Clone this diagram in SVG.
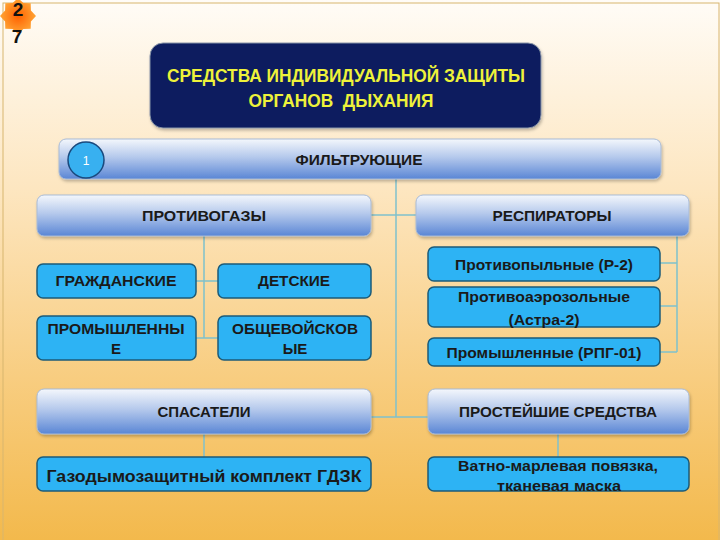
<svg xmlns="http://www.w3.org/2000/svg" width="720" height="540" viewBox="0 0 720 540">
<defs>
<linearGradient id="bg" x1="0" y1="0" x2="0" y2="1">
<stop offset="0" stop-color="#fffcf7"/>
<stop offset="0.35" stop-color="#fde6c0"/>
<stop offset="0.7" stop-color="#f8cd80"/>
<stop offset="1" stop-color="#f3b94c"/>
</linearGradient>
<linearGradient id="hdr" x1="0" y1="0" x2="0" y2="1">
<stop offset="0" stop-color="#f4f7fc"/>
<stop offset="0.45" stop-color="#b5c9ec"/>
<stop offset="1" stop-color="#5a86d5"/>
</linearGradient>
<radialGradient id="star" cx="0.5" cy="0.5" r="0.5">
<stop offset="0" stop-color="#ff6000"/>
<stop offset="1" stop-color="#ffa535"/>
</radialGradient>
<filter id="sh" x="-10%" y="-20%" width="120%" height="150%">
<feDropShadow dx="1" dy="2" stdDeviation="1.5" flood-color="#000" flood-opacity="0.25"/>
</filter>
</defs>
<style>
.hb{fill:url(#hdr);stroke:#a9bbd6;stroke-width:1;filter:url(#sh)}
.lb{fill:#2db3f4;stroke:#1c5b78;stroke-width:1.5}
.t{font-family:"Liberation Sans",Arial,sans-serif;font-weight:bold;fill:#1a1a1a;text-anchor:middle}
.c{font-size:15px}
.l{font-size:15px}
.cn{stroke:#7fc1cc;stroke-width:1.5;fill:none}
</style>
<rect x="0" y="0" width="720" height="540" fill="url(#bg)"/>
<rect x="3" y="3" width="716" height="540" fill="none" stroke="#d8b56e" stroke-width="1"/>

<g id="badge">
<polygon points="36,16 30.9,21.4 30.7,28.7 23.4,28.9 18,34 12.6,28.9 5.3,28.7 5.1,21.4 0,16 5.1,10.6 5.3,3.3 12.6,3.1 18,-2 23.4,3.1 30.7,3.3 30.9,10.6" fill="url(#star)"/>
<text x="18" y="16" font-family="Liberation Sans,Arial,sans-serif" font-weight="bold" font-size="19" text-anchor="middle" fill="#111">2</text>
<text x="17" y="43" font-family="Liberation Sans,Arial,sans-serif" font-weight="bold" font-size="19" text-anchor="middle" fill="#111">7</text>
</g>

<g id="connectors">
<path class="cn" d="M396,179 V417"/>
<path class="cn" d="M371,215 H416"/>
<path class="cn" d="M371,417 H428"/>
<path class="cn" d="M204,236 V338 M196,281 H218 M196,338 H218"/>
<path class="cn" d="M677,236 V352 M660,263 H677 M660,306 H677 M660,352 H677"/>
<path class="cn" d="M204,434 V457"/>
<path class="cn" d="M558,434 V457"/>
</g>

<g id="title">
<rect x="150" y="43" width="391" height="85" rx="13" fill="#0b1f5e" stroke="#8a94a8" stroke-width="1" filter="url(#sh)"/>
<text x="346" y="82" font-family="Liberation Sans,Arial,sans-serif" font-weight="bold" font-size="18" text-anchor="middle" fill="#eef23a" textLength="358" lengthAdjust="spacingAndGlyphs">СРЕДСТВА ИНДИВИДУАЛЬНОЙ ЗАЩИТЫ</text>
<text x="341" y="107" font-family="Liberation Sans,Arial,sans-serif" font-weight="bold" font-size="18" text-anchor="middle" fill="#eef23a" textLength="185" lengthAdjust="spacingAndGlyphs" xml:space="preserve">ОРГАНОВ  ДЫХАНИЯ</text>
</g>

<g id="filtr">
<rect class="hb" x="59" y="139" width="602" height="40" rx="7"/>
<circle cx="86" cy="160" r="18" fill="#38b0f0" stroke="#1a4a7e" stroke-width="1.5"/>
<text x="86" y="165" font-family="Liberation Sans,Arial,sans-serif" font-size="12" text-anchor="middle" fill="#ffffff">1</text>
<text class="t c" x="359" y="165" textLength="127" lengthAdjust="spacingAndGlyphs">ФИЛЬТРУЮЩИЕ</text>
</g>

<g id="protivogazy">
<rect class="hb" x="37" y="195" width="334" height="41" rx="7"/>
<text class="t c" x="204" y="221" textLength="124" lengthAdjust="spacingAndGlyphs">ПРОТИВОГАЗЫ</text>
</g>
<g id="respiratory">
<rect class="hb" x="416" y="195" width="273" height="41" rx="7"/>
<text class="t c" x="552" y="221" textLength="119" lengthAdjust="spacingAndGlyphs">РЕСПИРАТОРЫ</text>
</g>

<g id="grazhd">
<rect class="lb" x="37" y="264" width="159" height="34" rx="6"/>
<text class="t c" x="116" y="286" textLength="121" lengthAdjust="spacingAndGlyphs">ГРАЖДАНСКИЕ</text>
</g>
<g id="detskie">
<rect class="lb" x="218" y="264" width="153" height="34" rx="6"/>
<text class="t c" x="294" y="286" textLength="72" lengthAdjust="spacingAndGlyphs">ДЕТСКИЕ</text>
</g>
<g id="promgaz">
<rect class="lb" x="37" y="316" width="159" height="44" rx="6"/>
<text class="t c" x="116" y="334" textLength="137" lengthAdjust="spacingAndGlyphs">ПРОМЫШЛЕННЫ</text>
<text class="t c" x="116" y="354">Е</text>
</g>
<g id="obshevoisk">
<rect class="lb" x="218" y="316" width="153" height="44" rx="6"/>
<text class="t c" x="295" y="334" textLength="126" lengthAdjust="spacingAndGlyphs">ОБЩЕВОЙСКОВ</text>
<text class="t c" x="295" y="354">ЫЕ</text>
</g>

<g id="protivopyl">
<rect class="lb" x="428" y="247" width="232" height="34" rx="6"/>
<text class="t l" x="544" y="270" textLength="178" lengthAdjust="spacingAndGlyphs">Противопыльные (Р-2)</text>
</g>
<g id="protivoaero">
<rect class="lb" x="428" y="287" width="232" height="40" rx="6"/>
<text class="t l" x="544" y="302" textLength="172" lengthAdjust="spacingAndGlyphs">Противоаэрозольные</text>
<text class="t l" x="544" y="325" textLength="71" lengthAdjust="spacingAndGlyphs">(Астра-2)</text>
</g>
<g id="promresp">
<rect class="lb" x="428" y="338" width="232" height="28" rx="6"/>
<text class="t l" x="544" y="358" textLength="195" lengthAdjust="spacingAndGlyphs">Промышленные (РПГ-01)</text>
</g>

<g id="spasateli">
<rect class="hb" x="37" y="389" width="334" height="45" rx="7"/>
<text class="t c" x="204" y="417" textLength="93" lengthAdjust="spacingAndGlyphs">СПАСАТЕЛИ</text>
</g>
<g id="prosteishie">
<rect class="hb" x="428" y="389" width="261" height="45" rx="7"/>
<text class="t c" x="558" y="417" textLength="198" lengthAdjust="spacingAndGlyphs">ПРОСТЕЙШИЕ СРЕДСТВА</text>
</g>

<g id="gdzk">
<rect class="lb" x="37" y="457" width="334" height="34" rx="6"/>
<text class="t" x="204" y="482" font-size="17" textLength="315" lengthAdjust="spacingAndGlyphs">Газодымозащитный комплект ГДЗК</text>
</g>
<g id="vatno">
<rect class="lb" x="428" y="457" width="261" height="34" rx="6"/>
<text class="t l" x="558" y="471" textLength="200" lengthAdjust="spacingAndGlyphs">Ватно-марлевая повязка,</text>
<text class="t l" x="559" y="491" textLength="124" lengthAdjust="spacingAndGlyphs">тканевая маска</text>
</g>
</svg>
